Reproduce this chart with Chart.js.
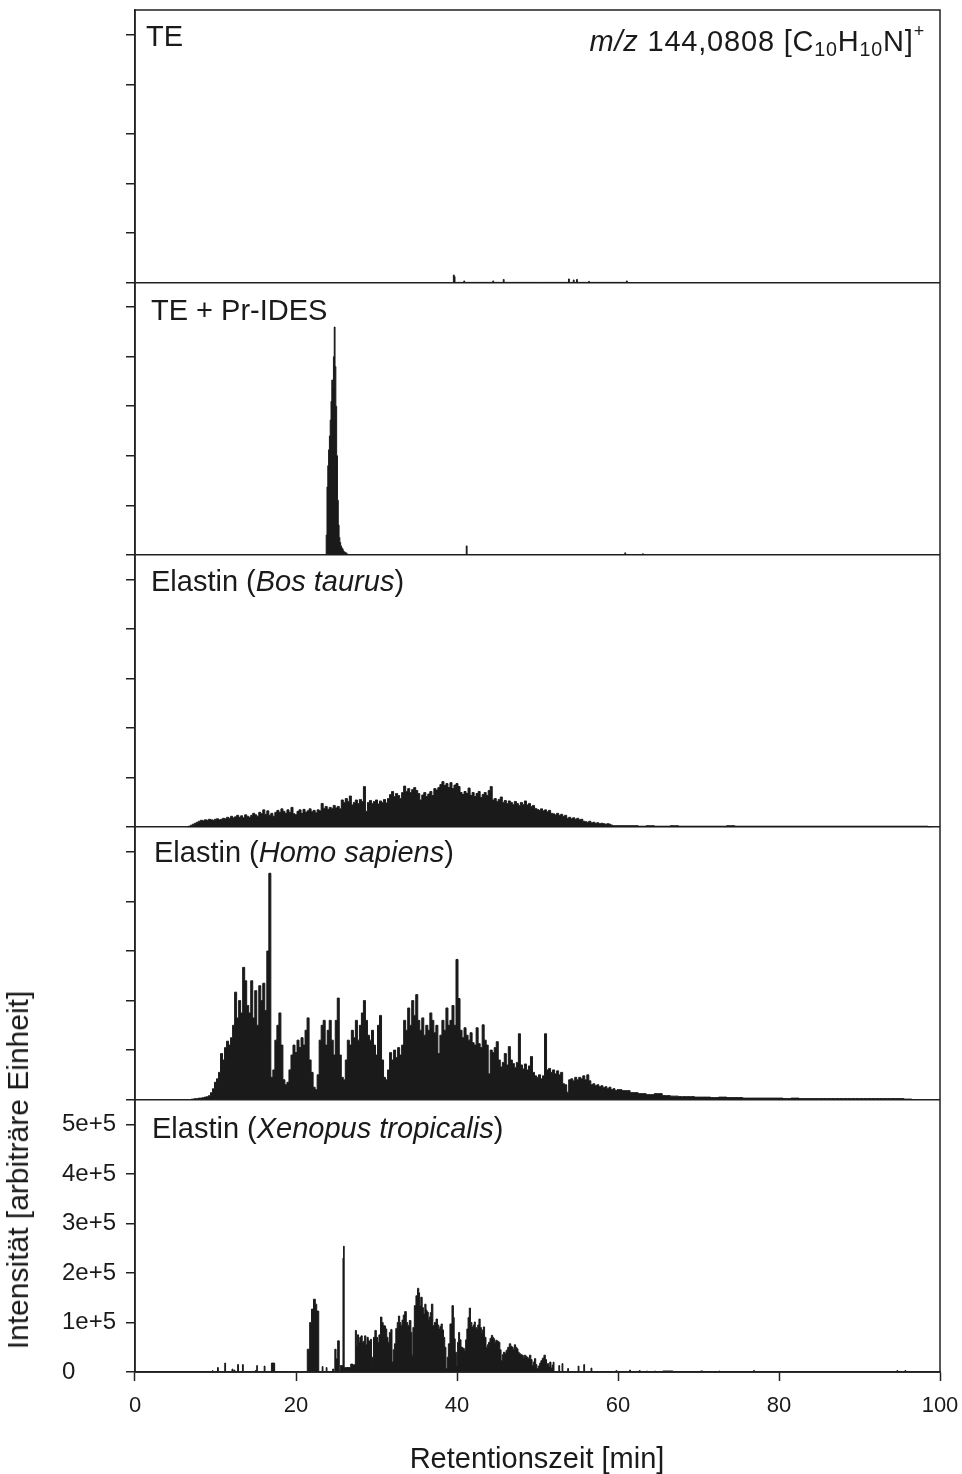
<!DOCTYPE html>
<html>
<head>
<meta charset="utf-8">
<script src="https://cdn.jsdelivr.net/npm/chart.js@4.4.1/dist/chart.umd.min.js"></script>
<style>
html,body{margin:0;padding:0;background:#fff;}
#wrap{position:relative;width:962px;height:1474px;font-family:"Liberation Sans",Arial,Helvetica,sans-serif;color:#1a1a1a;overflow:hidden;}
#c{position:absolute;left:0;top:0;}
.lbl{position:absolute;white-space:nowrap;line-height:1;transform:translateY(-50%);}
.panel{font-size:29px;}
.mz{font-size:29px;letter-spacing:0.8px;}
.mz sub{font-size:0.68em;vertical-align:-0.3em;line-height:0;}
.mz sup{font-size:0.62em;vertical-align:0.75em;line-height:0;}
.xtitle{font-size:29px;transform:translate(-50%,-50%);}
.ytitle{font-size:30px;transform:translate(-50%,-50%) rotate(-90deg);}
</style>
</head>
<body>
<div id="wrap">
<canvas id="c" width="962" height="1474"></canvas>
<div class="lbl panel" style="left:146px;top:35.5px">TE</div>
<div class="lbl mz" style="right:37px;top:41px"><i>m/z</i> 144,0808 [C<sub>10</sub>H<sub>10</sub>N]<sup>+</sup></div>
<div class="lbl panel" style="left:151px;top:310px">TE + Pr-IDES</div>
<div class="lbl panel" style="left:151px;top:581px">Elastin (<i>Bos taurus</i>)</div>
<div class="lbl panel" style="left:154px;top:852px">Elastin (<i>Homo sapiens</i>)</div>
<div class="lbl panel" style="left:152px;top:1128px">Elastin (<i>Xenopus tropicalis</i>)</div>
<div class="lbl xtitle" style="left:537px;top:1458px">Retentionszeit [min]</div>
<div class="lbl ytitle" style="left:18px;top:1170px">Intensität [arbiträre Einheit]</div>
</div>
<script>
// ---------------- DATA (intensities in thousands, retention time in min) ----------------
const INTENSITY_UNIT = 1000;
const xTickLabels = [0, 20, 40, 60, 80, 100];
const yTickValues = [0, 100000, 200000, 300000, 400000, 500000];
const yTickLabels = ['0', '1e+5', '2e+5', '3e+5', '4e+5', '5e+5'];
const panelNames = ['TE', 'TE + Pr-IDES', 'Elastin (Bos taurus)', 'Elastin (Homo sapiens)', 'Elastin (Xenopus tropicalis)'];

// TE: [time, intensity]
const tePoints = [[39.5,0],[39.6,15],[39.7,12],[39.8,0],[40.8,0],[40.9,3],[41.0,0],[44.4,0],[44.5,3],[44.6,0],
  [45.7,0],[45.8,6],[45.9,0],[53.8,0],[53.9,7],[54.0,0],[54.4,0],[54.5,5],[54.6,0],[54.8,0],[54.9,6],[55.0,0],
  [56.3,0],[56.4,2],[56.5,0],[61.0,0],[61.1,3],[61.2,0]];

// TE + Pr-IDES: [time, intensity]
const prIdesPoints = [[23.7,0],[23.8,40],[23.9,137],[24.0,180],[24.1,212],[24.2,240],[24.3,272],[24.4,310],[24.5,353],
  [24.6,340],[24.7,400],[24.8,460],[24.9,380],[25.0,300],[25.1,200],[25.2,110],[25.3,60],[25.4,35],[25.5,25],[25.6,18],
  [25.7,14],[25.8,12],[25.9,8],[26.0,6],[26.1,5],[26.2,4],[26.3,3],[26.4,0],[41.1,0],[41.2,18],[41.3,0],
  [60.8,0],[60.9,4],[61.0,0],[63.0,0],[63.1,2],[63.2,0]];

// Bos taurus: sampled every 0.25 min from 6.5 to 60.0, then every 1 min from 61 to 99
const bosStart = 6.5, bosStep = 0.25;
const bosValues = [
  0,2,4,6,8,10,12,14,13,15,
  14,16,15,14,16,17,15,16,18,17,
  20,18,22,19,21,24,20,23,19,25,
  22,20,24,28,25,22,30,27,35,26,
  33,24,28,22,30,34,30,37,32,28,
  35,30,40,27,25,32,35,28,36,30,
  33,37,31,34,29,35,33,48,38,42,
  36,40,38,44,39,42,37,55,50,58,
  52,63,45,50,55,48,56,52,82,32,
  50,54,48,52,55,47,53,50,56,49,
  58,66,72,62,68,64,58,70,83,72,
  78,70,76,80,74,68,55,65,70,62,
  67,72,64,78,75,80,86,92,84,88,
  80,90,78,85,88,82,70,66,72,68,
  79,64,70,62,68,72,60,66,70,64,
  74,82,55,58,52,56,61,50,54,48,
  53,50,46,52,48,44,50,46,53,45,
  48,42,44,38,36,34,37,33,35,31,
  34,28,27,25,28,24,26,22,24,18,
  20,17,19,16,18,15,16,12,11,10,
  12,9,10,8,9,7,8,7,6,7,
  6,4,3,3,3];
const bosTailStart = 61, bosTailStep = 1;
const bosTailValues = [3,3,2,3,2,2,3,2,2,2, 2,2,2,3,2,2,2,2,2,2, 2,2,2,2,2,2,2,2,2,2, 2,2,2,2,2,2,2,2,0];

// Homo sapiens: sampled every 0.25 min from 7.0 to 60.0, then every 1 min from 61 to 97
const homoStart = 7.0, homoStep = 0.25;
const homoValues = [
  1,1,2,2,3,3,4,5,6,8,
  14,22,35,42,55,93,80,105,118,110,
  125,150,217,165,200,175,267,240,190,175,
  240,165,220,150,230,200,235,180,300,457,
  45,60,120,150,175,110,40,30,35,60,
  90,110,95,120,105,125,110,140,165,80,
  55,25,20,50,120,150,160,110,140,160,
  120,90,160,205,90,45,40,80,120,110,
  140,125,160,120,150,175,200,160,130,120,
  140,110,90,150,170,80,45,40,60,95,
  80,100,85,105,90,110,160,140,185,150,
  200,170,212,160,140,165,130,150,140,175,
  160,135,150,93,130,160,140,185,150,160,
  190,150,283,204,140,125,145,130,120,135,
  115,110,145,113,105,151,120,110,52,100,
  95,105,117,80,66,75,93,70,107,80,
  73,65,75,133,70,62,72,60,68,87,
  55,48,45,50,42,48,133,60,63,55,
  60,52,58,50,55,32,30,15,40,42,
  38,45,40,45,42,48,40,50,38,30,
  32,28,30,26,28,24,26,22,25,20,
  22,18,20];
const homoTailStart = 61, homoTailStep = 1;
const homoTailValues = [18,14,12,10,12,8,7,6,6,5, 5,4,5,4,4,3,3,3,3,3, 2,3,2,2,2,2,2,2,2,2, 2,2,2,2,2,1,0];

// Xenopus tropicalis: [time, intensity]
const xenopusPoints = [
  [9.6,0],[9.65,3],[9.7,0],[10.2,0],[10.3,9],[10.4,0],[11.1,0],[11.2,18],[11.3,0],
  [12.0,0],[12.1,6],[12.2,0],[12.35,4],[12.45,0],[12.7,0],[12.8,15],[12.9,0],[13.3,0],[13.4,15],[13.5,0],
  [14.9,0],[15.0,3],[15.1,0],[15.15,13],[15.25,0],[16.0,0],[16.1,12],[16.2,0],[16.9,0],[17.0,18],[17.3,18],[17.4,0],
  [21.35,0],[21.45,46],[21.6,46],[21.8,100],[22.05,127],[22.3,147],[22.5,137],[22.65,123],[22.8,123],[22.85,0],
  [23.2,0],[23.3,11],[23.4,0],[23.7,0],[23.8,9],[23.9,0],
  [24.5,0],[24.6,6],[24.75,0],[24.9,46],[25.05,27],[25.3,63],[25.45,0],[25.55,13],[25.8,13],[25.87,230],[25.95,254],
  [26.02,9],[26.3,9],[26.7,9],[26.9,16],[27.2,14],[27.3,15],[27.45,84],[27.55,53],[27.7,75],[27.85,60],
  [28.0,70],[28.15,73],[28.3,60],[28.45,62],[28.6,73],[28.75,55],[28.9,70],[29.05,63],[29.2,62],[29.3,66],[29.45,10],
  [29.55,30],[29.7,70],[29.9,84],[30.05,70],[30.2,60],[30.4,75],[30.6,111],[30.75,100],[30.9,94],[31.05,93],[31.2,87],
  [31.35,70],[31.5,60],[31.7,80],[31.85,86],[32.0,20],[32.15,45],[32.3,57],[32.5,88],[32.65,100],[32.8,113],[32.95,100],
  [33.1,94],[33.25,105],[33.4,115],[33.6,122],[33.8,100],[33.95,94],[34.2,104],[34.35,80],[34.45,34],[34.6,90],[34.8,134],
  [35.0,154],[35.2,169],[35.3,160],[35.4,134],[35.6,151],[35.75,130],[35.9,117],[36.1,137],[36.2,125],[36.35,121],
  [36.5,105],[36.6,111],[36.75,120],[36.9,137],[37.1,94],[37.3,100],[37.5,107],[37.65,95],[37.8,87],[37.95,92],[38.1,97],
  [38.25,85],[38.4,70],[38.55,50],[38.7,7],[38.85,30],[39.0,57],[39.25,97],[39.5,134],[39.6,110],[39.7,67],[39.85,40],
  [40.0,13],[40.15,60],[40.25,80],[40.4,65],[40.6,50],[40.8,48],[41.0,44],[41.15,65],[41.3,87],[41.45,110],[41.6,129],
  [41.75,100],[41.95,91],[42.1,95],[42.2,101],[42.35,90],[42.5,87],[42.65,95],[42.8,107],[42.95,90],[43.1,80],[43.2,85],
  [43.35,91],[43.5,70],[43.7,50],[43.85,55],[44.0,60],[44.2,68],[44.35,74],[44.5,70],[44.6,67],[44.75,60],[44.9,64],
  [45.1,62],[45.25,60],[45.4,45],[45.55,23],[45.7,35],[45.85,40],[46.0,38],[46.2,44],[46.4,50],[46.6,57],[46.75,52],
  [46.9,50],[47.05,45],[47.2,55],[47.35,50],[47.5,47],[47.65,40],[47.8,37],[48.0,35],[48.15,34],[48.3,30],[48.45,34],
  [48.6,32],[48.7,30],[48.9,28],[49.1,34],[49.25,25],[49.4,13],[49.55,20],[49.7,27],[49.85,15],[50.0,7],[50.2,12],
  [50.35,18],[50.5,23],[50.7,28],[50.9,34],[51.05,25],[51.2,15],[51.3,17],[51.45,10],[51.6,20],[51.75,8],[51.9,14],
  [52.0,20],[52.1,0],[52.6,0],[52.7,13],[52.8,0],[53.0,0],[53.1,17],[53.2,0],[53.7,0],[53.8,7],[53.9,0],
  [55.0,0],[55.1,12],[55.2,0],[55.7,0],[55.8,15],[55.9,0],[56.6,0],[56.7,8],[56.8,0],
  [59.7,0],[59.8,3],[59.9,0],[61.4,0],[61.5,4],[61.6,0],[62.6,0],[62.7,3],[62.8,0],[63.5,0],[63.6,2],[63.7,0],
  [64.5,0],[64.6,2],[64.7,0],[65.5,0],[65.6,2],[66.8,2],[66.9,0],[70.2,0],[70.3,2],[70.5,2],[70.6,0],
  [72.5,0],[72.6,2],[72.7,0],[76.8,0],[76.9,3],[77.0,0],[94.6,0],[94.7,3],[94.8,0],[95.6,0],[95.7,3],[95.8,0]];

// ---------------- BUILD ----------------
const FONT = '"Liberation Sans", Arial, Helvetica, sans-serif';
const INK = '#1a1a1a';
const AXIS = '#222';
const Y_MAX = 550000;

function pairsToPoints(pairs) {
  return pairs.map(p => ({x: p[0], y: p[1] * INTENSITY_UNIT}));
}
function gridToPoints(start, step, values) {
  return values.map((v, i) => ({x: +(start + i * step).toFixed(3), y: v * INTENSITY_UNIT}));
}

function trace(label, data, axisId) {
  return {
    label, data, yAxisID: axisId, xAxisID: 'x',
    borderColor: INK, backgroundColor: INK, borderWidth: 1,
    pointRadius: 0, tension: 0, stepped: 'middle', fill: 'origin'
  };
}

function panelAxis(weight, showLabels) {
  return {
    type: 'linear', position: 'left', stack: 'panels', stackWeight: 1, weight: weight,
    min: 0, max: Y_MAX, bounds: 'data',
    border: {display: true, color: AXIS, width: 1.5},
    grid: {
      drawOnChartArea: true,
      color: (ctx) => (ctx.tick && ctx.tick.value === 0) ? AXIS : 'rgba(0,0,0,0)',
      lineWidth: 1.5, drawTicks: true, tickLength: 9, tickColor: AXIS, tickWidth: 1.5
    },
    ticks: {
      display: showLabels, includeBounds: false, padding: 9, autoSkip: false,
      crossAlign: 'far', color: INK, font: {family: FONT, size: 24},
      callback: (v) => yTickLabels[yTickValues.indexOf(v)]
    },
    afterBuildTicks(scale) {
      scale.ticks = yTickValues.map(v => ({value: v}));
      scale.min = 0;
      scale.max = Y_MAX;
    },
    afterFit(scale) {
      scale.width = 73;
      scale.paddingTop = 0; scale.paddingBottom = 0; scale.paddingLeft = 0; scale.paddingRight = 0;
    }
  };
}

const framePlugin = {
  id: 'frame',
  afterDatasetsDraw(chart) {
    const a = chart.chartArea, ctx = chart.ctx;
    ctx.save();
    ctx.strokeStyle = AXIS;
    ctx.lineWidth = 1.5;
    ctx.strokeRect(a.left, a.top, a.right - a.left, a.bottom - a.top);
    ctx.restore();
  }
};

new Chart(document.getElementById('c'), {
  type: 'line',
  data: {
    datasets: [
      trace(panelNames[0], pairsToPoints(tePoints), 'yTE'),
      trace(panelNames[1], pairsToPoints(prIdesPoints), 'yPr'),
      trace(panelNames[2], gridToPoints(bosStart, bosStep, bosValues).concat(gridToPoints(bosTailStart, bosTailStep, bosTailValues)), 'yBos'),
      trace(panelNames[3], gridToPoints(homoStart, homoStep, homoValues).concat(gridToPoints(homoTailStart, homoTailStep, homoTailValues)), 'yHomo'),
      trace(panelNames[4], pairsToPoints(xenopusPoints), 'yXen')
    ]
  },
  options: {
    responsive: false, animation: false, devicePixelRatio: 1,
    parsing: false, normalized: true,
    layout: {padding: {top: 10, right: 22, left: 62, bottom: 0}},
    plugins: {legend: {display: false}, tooltip: {enabled: false}, title: {display: false}},
    scales: {
      x: {
        type: 'linear', position: 'bottom', min: 0, max: 100,
        border: {display: true, color: AXIS, width: 1.5},
        grid: {drawOnChartArea: false, drawTicks: true, tickLength: 9, tickColor: AXIS, tickWidth: 1.5, color: AXIS},
        ticks: {
          stepSize: 20, padding: 12, maxRotation: 0, autoSkip: false, color: INK, font: {family: FONT, size: 22},
          callback: (v) => xTickLabels.includes(v) ? String(v) : ''
        },
        afterFit(scale) {
          scale.height = 102;
          scale.paddingTop = 0; scale.paddingBottom = 0; scale.paddingLeft = 0; scale.paddingRight = 0;
        }
      },
      yTE: panelAxis(5, false),
      yPr: panelAxis(4, false),
      yBos: panelAxis(3, false),
      yHomo: panelAxis(2, false),
      yXen: panelAxis(1, true)
    }
  },
  plugins: [framePlugin]
});
</script>
</body>
</html>
